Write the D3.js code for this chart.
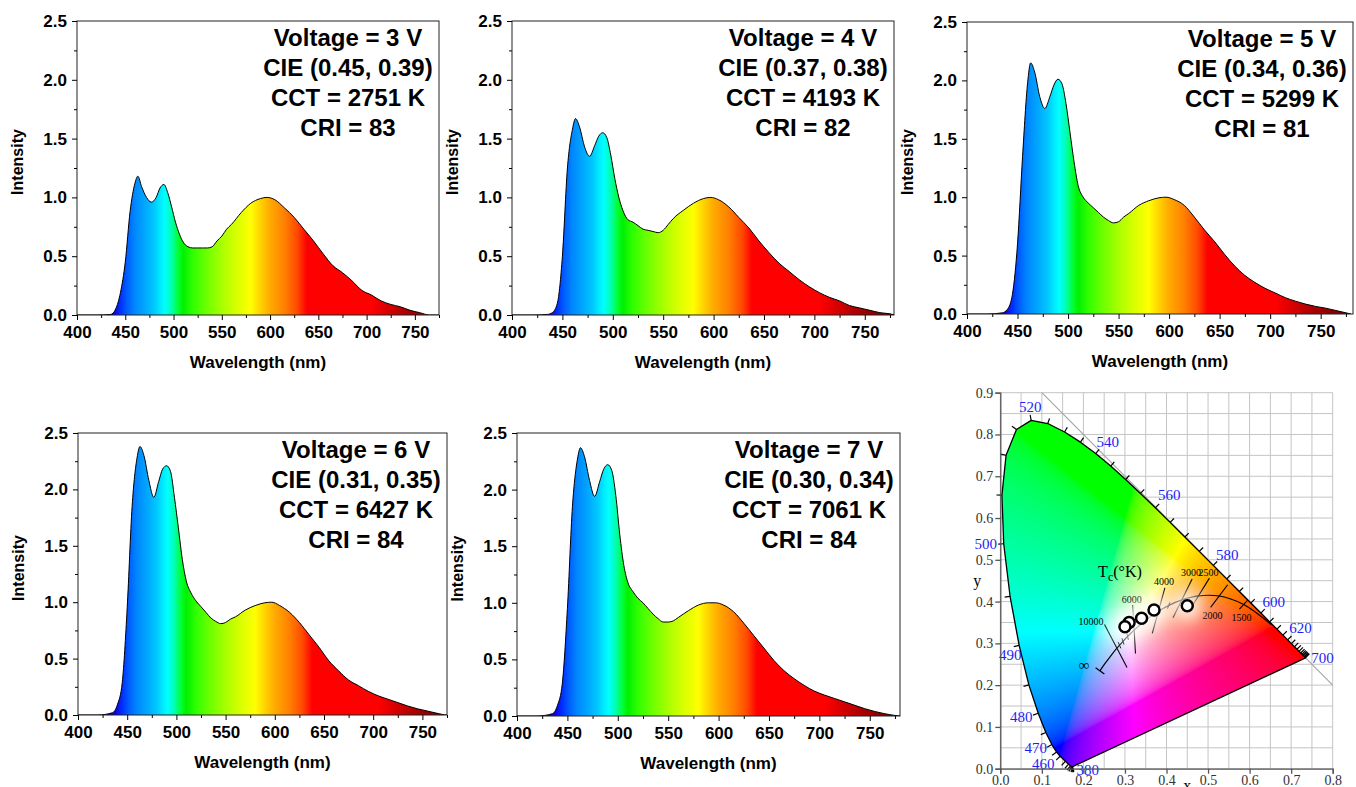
<!DOCTYPE html>
<html>

<head>
    <meta charset="UTF-8">
    <style>
        body { margin: 0; background: #fff; }
        svg { display: block; }
    </style>
</head>

<body>
    <svg></svg>
    <script src="https://d3js.org/d3.v7.min.js"></script>

    <script>

        let width = 1356, height = 787;

        let svg = d3.select("svg")
            .attr("width", width)
            .attr("height", height)

        // ---- spectra ----
        const wavelengths = [400, 420, 435, 440, 445, 450, 455, 460, 463, 467, 472, 477, 482, 486, 490, 494, 498, 502, 506, 510,
            515, 520, 525, 530, 535, 540, 545, 550, 555, 560, 570, 580, 590, 597, 605, 615, 625, 635, 645, 655,
            665, 675, 685, 695, 705, 715, 725, 735, 745, 755, 765, 775, 780];

        const spec3V = [0, 0, 0.005, 0.05, 0.19, 0.45, 0.88, 1.12, 1.18, 1.09, 1.0, 0.96, 1.0, 1.08, 1.11, 1.04, 0.92, 0.79, 0.69, 0.62,
            0.58, 0.57, 0.57, 0.57, 0.57, 0.58, 0.63, 0.67, 0.73, 0.77, 0.87, 0.95, 0.99, 1.0, 0.98, 0.91, 0.83, 0.73, 0.63, 0.52,
            0.42, 0.36, 0.29, 0.21, 0.17, 0.12, 0.09, 0.07, 0.04, 0.02, 0.0, 0, 0];
        const spec4V = [0, 0, 0.005, 0.02, 0.1, 0.5, 1.25, 1.58, 1.67, 1.6, 1.43, 1.35, 1.44, 1.52, 1.55, 1.51, 1.36, 1.16, 1.0, 0.89,
            0.81, 0.79, 0.76, 0.73, 0.72, 0.71, 0.7, 0.72, 0.77, 0.82, 0.89, 0.95, 0.99, 1.0, 0.98, 0.92, 0.83, 0.74, 0.63, 0.53,
            0.44, 0.37, 0.3, 0.24, 0.19, 0.15, 0.12, 0.08, 0.06, 0.04, 0.02, 0.01, 0];
        const spec5V = [0, 0, 0.01, 0.04, 0.17, 0.6, 1.35, 1.98, 2.15, 2.07, 1.86, 1.76, 1.86, 1.96, 2.01, 1.97, 1.8, 1.55, 1.3, 1.1,
            1.0, 0.95, 0.91, 0.87, 0.83, 0.8, 0.78, 0.79, 0.83, 0.86, 0.93, 0.97, 0.995, 1.0, 0.98, 0.93, 0.83, 0.72, 0.62, 0.51,
            0.41, 0.33, 0.27, 0.22, 0.18, 0.14, 0.11, 0.085, 0.065, 0.05, 0.03, 0.01, 0];
        const spec6V = [0, 0, 0.02, 0.09, 0.29, 0.95, 1.85, 2.28, 2.38, 2.3, 2.08, 1.93, 2.07, 2.18, 2.21, 2.16, 1.93, 1.66, 1.38, 1.19,
            1.08, 1.01, 0.96, 0.91, 0.86, 0.83, 0.81, 0.82, 0.85, 0.87, 0.93, 0.97, 0.995, 1.0, 0.97, 0.91, 0.82, 0.71, 0.6, 0.48,
            0.39, 0.31, 0.26, 0.21, 0.17, 0.14, 0.11, 0.08, 0.055, 0.035, 0.015, 0, 0];
        const spec7V = [0, 0, 0.02, 0.09, 0.29, 0.95, 1.85, 2.27, 2.37, 2.29, 2.08, 1.94, 2.07, 2.18, 2.22, 2.17, 1.95, 1.6, 1.33, 1.18,
            1.1, 1.04, 1.0, 0.95, 0.9, 0.86, 0.83, 0.83, 0.84, 0.87, 0.93, 0.98, 1.0, 1.0, 0.98, 0.92, 0.82, 0.71, 0.6, 0.49,
            0.4, 0.33, 0.27, 0.22, 0.185, 0.155, 0.125, 0.095, 0.065, 0.04, 0.02, 0.005, 0];

        const spectra = [spec3V, spec4V, spec5V, spec6V, spec7V];
        const voltages = [3, 4, 5, 6, 7];
        const cieX = [0.45, 0.37, 0.34, 0.31, 0.30];
        const cieY = [0.39, 0.38, 0.36, 0.35, 0.34];
        const cct = [2751, 4193, 5299, 6427, 7061];
        const cri = [83, 82, 81, 84, 84];

        const xTicks = [400, 450, 500, 550, 600, 650, 700, 750];
        const xMinor = [425, 475, 525, 575, 625, 675, 725, 775];
        const yTicks = [0, 0.5, 1.0, 1.5, 2.0, 2.5];
        const yMinor = [0.25, 0.75, 1.25, 1.75, 2.25];

        // ---- CIE 1931 spectral locus ----
        const locusNm = [380, 390, 400, 410, 420, 430, 440, 450, 460, 465, 470, 475, 480, 485, 490, 495, 500, 505, 510, 515,
            520, 525, 530, 535, 540, 545, 550, 555, 560, 565, 570, 575, 580, 585, 590, 595, 600, 605, 610, 615,
            620, 625, 630, 635, 640, 645, 650, 655, 660, 670, 680, 690, 700];
        const locusX = [0.1741, 0.1738, 0.1733, 0.1726, 0.1714, 0.1689, 0.1644, 0.1566, 0.1440, 0.1355, 0.1241, 0.1096, 0.0913, 0.0687, 0.0454, 0.0235, 0.0082, 0.0039, 0.0139, 0.0389,
            0.0743, 0.1142, 0.1547, 0.1929, 0.2296, 0.2658, 0.3016, 0.3373, 0.3731, 0.4087, 0.4441, 0.4788, 0.5125, 0.5448, 0.5752, 0.6029, 0.6270, 0.6482, 0.6658, 0.6801,
            0.6915, 0.7006, 0.7079, 0.7140, 0.7190, 0.7230, 0.7260, 0.7283, 0.7300, 0.7320, 0.7334, 0.7344, 0.7347];
        const locusY = [0.0050, 0.0049, 0.0048, 0.0048, 0.0051, 0.0069, 0.0109, 0.0177, 0.0297, 0.0399, 0.0578, 0.0868, 0.1327, 0.2007, 0.2950, 0.4127, 0.5384, 0.6548, 0.7502, 0.8120,
            0.8338, 0.8262, 0.8059, 0.7816, 0.7543, 0.7243, 0.6923, 0.6589, 0.6245, 0.5896, 0.5547, 0.5202, 0.4866, 0.4544, 0.4242, 0.3965, 0.3725, 0.3514, 0.3340, 0.3197,
            0.3083, 0.2993, 0.2920, 0.2859, 0.2809, 0.2770, 0.2740, 0.2717, 0.2700, 0.2680, 0.2666, 0.2656, 0.2653];
        const locusLabels = [380, 460, 470, 480, 490, 500, 520, 540, 560, 580, 600, 620, 700];

        // ---- Planckian locus ----
        const planckT = [1000, 1500, 2000, 2500, 3000, 3500, 4000, 4500, 5000, 5500, 6000, 6500, 7000, 8000, 9000, 10000, 12000, 15000, 20000, 40000, Infinity];
        const planckX = [0.6528, 0.5857, 0.5267, 0.4770, 0.4369, 0.4053, 0.3805, 0.3608, 0.3451, 0.3325, 0.3221, 0.3135, 0.3064, 0.2952, 0.2869, 0.2807, 0.2720, 0.2637, 0.2565, 0.2479, 0.2399];
        const planckY = [0.3444, 0.3931, 0.4133, 0.4137, 0.4041, 0.3907, 0.3768, 0.3636, 0.3516, 0.3411, 0.3318, 0.3237, 0.3166, 0.3048, 0.2956, 0.2884, 0.2779, 0.2673, 0.2577, 0.2459, 0.2342];
        const isoT = [10000, 6000, 4000, 3000, 2500, 2000, 1500];
        const minorT = [3500, 5000, 7000, 8000, 9000];

        const cieTicksX = [0, 0.1, 0.2, 0.3, 0.4, 0.5, 0.6, 0.7, 0.8];
        const cieTicksY = [0, 0.1, 0.2, 0.3, 0.4, 0.5, 0.6, 0.7, 0.8, 0.9];

        // ---- layout / style ----
        const sans = "'Liberation Sans', Arial, Helvetica, sans-serif";
        const serif = "'Liberation Serif', 'Times New Roman', Times, serif";

        const boxes = [
            { l: 77, t: 21, r: 439, b: 315, xmax: 775 },
            { l: 512, t: 21, r: 894, b: 315, xmax: 779 },
            { l: 967, t: 22, r: 1353, b: 314, xmax: 782 },
            { l: 78, t: 433, r: 447, b: 715, xmax: 775 },
            { l: 517, t: 433, r: 900, b: 716, xmax: 780 }
        ];

        const rainbow = [[425, "#1a0090"], [438, "#1000e0"], [445, "#0030ff"], [452, "#0060ff"], [460, "#0088ff"], [470, "#00a6ff"],
        [480, "#00c8ff"], [487, "#00eeff"], [491, "#00ffff"], [498, "#00ffb0"], [505, "#00ff30"], [510, "#00f000"],
        [520, "#30ff00"], [535, "#70ff00"], [550, "#a8ff00"], [565, "#d8ff00"], [580, "#ffff00"], [590, "#ffd200"],
        [600, "#ffaa00"], [615, "#ff8000"], [628, "#ff4a00"], [638, "#ff0000"], [705, "#ff0000"], [720, "#dd0000"],
        [740, "#b00000"], [770, "#800000"]];

        let defs = svg.append("defs");

        // ================= spectrum panels =================
        boxes.forEach((bx, k) => {
            let x = d3.scaleLinear().domain([400, bx.xmax]).range([bx.l, bx.r]);
            let y = d3.scaleLinear().domain([0, 2.5]).range([bx.b, bx.t]);

            let grad = defs.append("linearGradient")
                .attr("id", "spec" + k)
                .attr("gradientUnits", "userSpaceOnUse")
                .attr("x1", x(400)).attr("x2", x(780))
                .attr("y1", 0).attr("y2", 0);
            rainbow.forEach(s => grad.append("stop")
                .attr("offset", (s[0] - 400) / 380)
                .attr("stop-color", s[1]));

            defs.append("clipPath").attr("id", "pclip" + k)
                .append("rect")
                .attr("x", bx.l).attr("y", bx.t)
                .attr("width", bx.r - bx.l).attr("height", bx.b - bx.t);

            let pts = wavelengths.map((w, i) => [w, spectra[k][i]]);
            let g = svg.append("g");

            g.append("path")
                .datum(pts)
                .attr("clip-path", "url(#pclip" + k + ")")
                .attr("fill", "url(#spec" + k + ")")
                .attr("d", d3.area()
                    .x(d => x(d[0]))
                    .y0(y(0))
                    .y1(d => y(d[1]))
                    .curve(d3.curveMonotoneX));

            g.append("path")
                .datum(pts)
                .attr("clip-path", "url(#pclip" + k + ")")
                .attr("fill", "none")
                .attr("stroke", "#000")
                .attr("stroke-width", 1)
                .attr("d", d3.line()
                    .x(d => x(d[0]))
                    .y(d => y(d[1]))
                    .curve(d3.curveMonotoneX));

            g.append("rect")
                .attr("x", bx.l).attr("y", bx.t)
                .attr("width", bx.r - bx.l).attr("height", bx.b - bx.t)
                .attr("fill", "none")
                .attr("stroke", "#222")
                .attr("stroke-width", 1);

            // axes
            let xa = g.append("g").attr("transform", "translate(0," + bx.b + ")")
                .call(d3.axisBottom(x).tickValues(xTicks).tickSize(5).tickPadding(6));
            g.append("g").attr("transform", "translate(0," + bx.b + ")")
                .call(d3.axisBottom(x).tickValues(xMinor.filter(v => v <= bx.xmax)).tickSize(3).tickFormat(""))
                .select(".domain").remove();
            let ya = g.append("g").attr("transform", "translate(" + bx.l + ",0)")
                .call(d3.axisLeft(y).tickValues(yTicks).tickSize(5).tickPadding(5).tickFormat(d3.format(".1f")));
            g.append("g").attr("transform", "translate(" + bx.l + ",0)")
                .call(d3.axisLeft(y).tickValues(yMinor).tickSize(3).tickFormat(""))
                .select(".domain").remove();

            [xa, ya].forEach(a => {
                a.select(".domain").remove();
                a.selectAll("text")
                    .style("font-family", sans)
                    .style("font-weight", "bold")
                    .style("font-size", "17px")
                    .attr("fill", "#000");
            });
            g.selectAll(".tick line").attr("stroke", "#000");

            g.append("text")
                .attr("x", (bx.l + bx.r) / 2)
                .attr("y", bx.b + 53)
                .attr("text-anchor", "middle")
                .style("font-family", sans)
                .style("font-weight", "bold")
                .style("font-size", "17px")
                .text("Wavelength (nm)");

            g.append("text")
                .attr("transform", "translate(" + (bx.l - 54) + "," + ((bx.t + bx.b) / 2 - 6) + ") rotate(-90)")
                .attr("text-anchor", "middle")
                .style("font-family", sans)
                .style("font-weight", "bold")
                .style("font-size", "16px")
                .text("Intensity");

            let lines = [
                "Voltage = " + voltages[k] + " V",
                "CIE (" + d3.format(".2f")(cieX[k]) + ", " + d3.format(".2f")(cieY[k]) + ")",
                "CCT = " + cct[k] + " K",
                "CRI = " + cri[k]
            ];
            g.selectAll(".info")
                .data(lines)
                .enter()
                .append("text")
                .attr("x", bx.r - 91)
                .attr("y", (d, i) => bx.t + 25 + i * 30)
                .attr("text-anchor", "middle")
                .style("font-family", sans)
                .style("font-weight", "bold")
                .style("font-size", "24px")
                .text(d => d);
        });

        // ================= CIE chromaticity diagram =================
        let cx = d3.scaleLinear().domain([0, 0.8]).range([1000.3, 1332.7]);
        let cy = d3.scaleLinear().domain([0, 0.9]).range([768.7, 392.7]);
        let cg = svg.append("g");

        // grid every 0.05
        let gridX = d3.range(0, 17).map(i => i * 0.05);
        let gridY = d3.range(0, 19).map(i => i * 0.05);
        cg.append("g").selectAll("line").data(gridX).enter().append("line")
            .attr("x1", d => cx(d)).attr("x2", d => cx(d))
            .attr("y1", cy(0)).attr("y2", cy(0.9))
            .attr("stroke", "#c4c4c4").attr("stroke-width", 1);
        cg.append("g").selectAll("line").data(gridY).enter().append("line")
            .attr("x1", cx(0)).attr("x2", cx(0.8))
            .attr("y1", d => cy(d)).attr("y2", d => cy(d))
            .attr("stroke", "#c4c4c4").attr("stroke-width", 1);

        // x + y = 1 line
        cg.append("line")
            .attr("x1", cx(0.1)).attr("y1", cy(0.9))
            .attr("x2", cx(0.8)).attr("y2", cy(0.2))
            .attr("stroke", "#a8a8a8").attr("stroke-width", 1.2);

        // horseshoe colour fill (xyY -> sRGB, out-of-gamut clipped, max-normalised)
        function xyToRgb(x, y) {
            let X = x / y, Y = 1, Z = (1 - x - y) / y;
            let r = 3.2406 * X - 1.5372 * Y - 0.4986 * Z;
            let g = -0.9689 * X + 1.8758 * Y + 0.0415 * Z;
            let b = 0.0557 * X - 0.2040 * Y + 1.0570 * Z;
            r = Math.max(r, 0); g = Math.max(g, 0); b = Math.max(b, 0);
            let M = Math.max(r, g, b) || 1;
            r /= M; g /= M; b /= M;
            const gam = v => v <= 0.0031308 ? 12.92 * v : 1.055 * Math.pow(v, 1 / 2.4) - 0.055;
            return [gam(r) * 255, gam(g) * 255, gam(b) * 255];
        }

        let px0 = Math.floor(cx(0)), px1 = Math.ceil(cx(0.8)), py0 = Math.floor(cy(0.9)), py1 = Math.ceil(cy(0));
        let cw = px1 - px0, ch = py1 - py0;
        let canvas = document.createElement("canvas");
        canvas.width = cw; canvas.height = ch;
        let ctx = canvas.getContext("2d");
        let img = ctx.createImageData(cw, ch);
        for (let j = 0; j < ch; j++) {
            for (let i = 0; i < cw; i++) {
                let xv = cx.invert(px0 + i + 0.5), yv = cy.invert(py0 + j + 0.5);
                if (yv < 0.002 || xv < 0) continue;
                let c = xyToRgb(xv, yv);
                let o = (j * cw + i) * 4;
                img.data[o] = c[0]; img.data[o + 1] = c[1]; img.data[o + 2] = c[2]; img.data[o + 3] = 255;
            }
        }
        ctx.putImageData(img, 0, 0);

        let locusPts = locusNm.map((nm, i) => [cx(locusX[i]), cy(locusY[i])]);
        let locusPath = d3.line()(locusPts) + "Z";

        defs.append("clipPath").attr("id", "locusClip")
            .append("path").attr("d", locusPath);

        cg.append("image")
            .attr("x", px0).attr("y", py0)
            .attr("width", cw).attr("height", ch)
            .attr("preserveAspectRatio", "none")
            .attr("href", canvas.toDataURL())
            .attr("clip-path", "url(#locusClip)");

        cg.append("path")
            .attr("d", locusPath)
            .attr("fill", "none")
            .attr("stroke", "#000")
            .attr("stroke-width", 1.3)
            .attr("stroke-linejoin", "round");

        // wavelength ticks on the locus (outward)
        let cen = [cx(0.33), cy(0.33)];
        function outward(i) {
            let a = locusPts[Math.max(i - 1, 0)], c = locusPts[Math.min(i + 1, locusPts.length - 1)];
            let tx = c[0] - a[0], ty = c[1] - a[1];
            let len = Math.hypot(tx, ty) || 1;
            let nx = -ty / len, ny = tx / len;
            let p = locusPts[i];
            if ((p[0] - cen[0]) * nx + (p[1] - cen[1]) * ny < 0) { nx = -nx; ny = -ny; }
            return [nx, ny];
        }
        cg.append("g").selectAll("line")
            .data(locusNm.map((nm, i) => i).filter(i => locusNm[i] > 380 && locusNm[i] < 700))
            .enter().append("line")
            .attr("x1", i => locusPts[i][0])
            .attr("y1", i => locusPts[i][1])
            .attr("x2", i => locusPts[i][0] + outward(i)[0] * 5.5)
            .attr("y2", i => locusPts[i][1] + outward(i)[1] * 5.5)
            .attr("stroke", "#000")
            .attr("stroke-width", 1.2);

        // label offsets from the locus point (pixels)
        const labelOffset = {
            380: [15, 3], 460: [-17, 7], 470: [-16, 3], 480: [-17, 3], 490: [-9, 9], 500: [-18, 0],
            520: [-1, -14], 540: [12, -12], 560: [14, -13], 580: [14, -11], 600: [13, -11], 620: [13, -12], 700: [17, 0]
        };
        cg.append("g").selectAll("text")
            .data(locusLabels)
            .enter().append("text")
            .attr("x", nm => locusPts[locusNm.indexOf(nm)][0] + labelOffset[nm][0])
            .attr("y", nm => locusPts[locusNm.indexOf(nm)][1] + labelOffset[nm][1])
            .attr("dy", "0.35em")
            .attr("text-anchor", "middle")
            .attr("fill", "#1e1ef5")
            .style("font-family", serif)
            .style("font-size", "15px")
            .text(d => d);

        // Planckian locus
        let planckPts = planckT.map((t, i) => [planckX[i], planckY[i]]);
        cg.append("path")
            .datum(planckPts)
            .attr("fill", "none")
            .attr("stroke", "#000")
            .attr("stroke-width", 1.2)
            .attr("d", d3.line().x(d => cx(d[0])).y(d => cy(d[1])).curve(d3.curveCatmullRom));

        // isotherms: perpendicular to the locus in CIE 1960 uv
        const toUV = (x, y) => { let d = -2 * x + 12 * y + 3; return [4 * x / d, 6 * y / d]; };
        const toXY = (u, v) => { let d = 2 * u - 8 * v + 4; return [3 * u / d, 2 * v / d]; };
        function isoDir(i) {
            let a = toUV(planckX[Math.max(i - 1, 0)], planckY[Math.max(i - 1, 0)]);
            let c = toUV(planckX[Math.min(i + 1, planckT.length - 1)], planckY[Math.min(i + 1, planckT.length - 1)]);
            let tu = c[0] - a[0], tv = c[1] - a[1], l = Math.hypot(tu, tv);
            let nu = -tv / l, nv = tu / l;
            let p = toUV(planckX[i], planckY[i]);
            let q = toXY(p[0] + nu * 0.001, p[1] + nv * 0.001);
            let dx = q[0] - planckX[i], dy = q[1] - planckY[i], dl = Math.hypot(dx, dy);
            dx /= dl; dy /= dl;
            if (dy < 0) { dx = -dx; dy = -dy; }   // "up" direction
            return [dx, dy];
        }
        const isoLen = { 10000: [0.064, 0.052], 6000: [0.06, 0.056], 4000: [0.058, 0.055], 3000: [0.056, 0.048], 2500: [0.05, 0.028], 2000: [0.034, 0.034], 1500: [0.015, 0.015] };
        let isoData = isoT.map(t => {
            let i = planckT.indexOf(t), dir = isoDir(i), L = isoLen[t];
            return {
                t: t,
                up: [planckX[i] + dir[0] * L[0], planckY[i] + dir[1] * L[0]],
                dn: [planckX[i] - dir[0] * L[1], planckY[i] - dir[1] * L[1]]
            };
        });
        cg.append("g").selectAll("line").data(isoData).enter().append("line")
            .attr("x1", d => cx(d.up[0])).attr("y1", d => cy(d.up[1]))
            .attr("x2", d => cx(d.dn[0])).attr("y2", d => cy(d.dn[1]))
            .attr("stroke", "#000").attr("stroke-width", 1.1);

        // short ticks at intermediate temperatures
        cg.append("g").selectAll("line").data(minorT).enter().append("line")
            .each(function (t) {
                let i = planckT.indexOf(t), dir = isoDir(i), L = 0.008;
                d3.select(this)
                    .attr("x1", cx(planckX[i] + dir[0] * L)).attr("y1", cy(planckY[i] + dir[1] * L))
                    .attr("x2", cx(planckX[i] - dir[0] * L)).attr("y2", cy(planckY[i] - dir[1] * L));
            })
            .attr("stroke", "#000").attr("stroke-width", 1);

        // bar at infinity
        let iInf = planckT.length - 1, dInf = isoDir(iInf);
        cg.append("line")
            .attr("x1", cx(planckX[iInf] + dInf[0] * 0.013)).attr("y1", cy(planckY[iInf] + dInf[1] * 0.013))
            .attr("x2", cx(planckX[iInf] - dInf[0] * 0.013)).attr("y2", cy(planckY[iInf] - dInf[1] * 0.013))
            .attr("stroke", "#000").attr("stroke-width", 1.2);
        cg.append("text")
            .attr("x", cx(planckX[iInf]) - 16).attr("y", cy(planckY[iInf]) - 6)
            .attr("dy", "0.35em").attr("text-anchor", "middle")
            .style("font-family", serif).style("font-size", "15px")
            .text("\u221E");

        // temperature labels
        cg.append("g").selectAll("text").data(isoData).enter().append("text")
            .attr("x", d => d.t === 10000 ? cx(d.up[0]) - 1 : (d.t < 2500 ? cx(d.dn[0]) + 2 : cx(d.up[0]) - 1))
            .attr("y", d => d.t === 10000 ? cy(d.up[1]) - 3 : (d.t < 2500 ? cy(d.dn[1]) + 8 : cy(d.up[1]) - 6))
            .attr("dy", "0.35em")
            .attr("text-anchor", d => d.t === 10000 ? "end" : "middle")
            .style("font-family", serif).style("font-size", "10px")
            .text(d => d.t);

        let tc = cg.append("text")
            .attr("x", cx(0.288)).attr("y", cy(0.458))
            .attr("text-anchor", "middle")
            .style("font-family", serif).style("font-size", "16px");
        tc.append("tspan").text("T");
        tc.append("tspan").attr("dy", 4).style("font-size", "12px").text("c");
        tc.append("tspan").attr("dy", -4).text("(\u00B0K)");

        // white glow around the measured points, then the points
        defs.append("filter").attr("id", "glow")
            .attr("x", "-200%").attr("y", "-200%").attr("width", "500%").attr("height", "500%")
            .append("feGaussianBlur").attr("stdDeviation", 8);
        cg.append("g")
            .attr("filter", "url(#glow)")
            .attr("opacity", 0.9)
            .selectAll("circle").data(cieX).enter().append("circle")
            .attr("cx", (d, i) => cx(cieX[i]))
            .attr("cy", (d, i) => cy(cieY[i]))
            .attr("r", 14)
            .attr("fill", "#fff");

        cg.append("g").selectAll("circle").data(cieX).enter().append("circle")
            .attr("cx", (d, i) => cx(cieX[i]))
            .attr("cy", (d, i) => cy(cieY[i]))
            .attr("r", 5.5)
            .attr("fill", "#fff")
            .attr("stroke", "#000")
            .attr("stroke-width", 2.5);

        // axes of the CIE diagram
        let cxa = cg.append("g").attr("transform", "translate(0," + cy(0) + ")")
            .call(d3.axisBottom(cx).tickValues(cieTicksX).tickSize(5).tickPadding(1).tickFormat(d3.format(".1f")));
        let cya = cg.append("g").attr("transform", "translate(" + cx(0) + ",0)")
            .call(d3.axisLeft(cy).tickValues(cieTicksY).tickSize(5).tickPadding(2).tickFormat(d3.format(".1f")));
        [cxa, cya].forEach(a => {
            a.select(".domain").attr("stroke", "#555").attr("stroke-width", 1.3);
            a.selectAll(".tick line").attr("stroke", "#555").attr("stroke-width", 1.3);
            a.selectAll("text")
                .style("font-family", serif)
                .style("font-size", "14px")
                .attr("fill", "#333");
        });

        cg.append("text")
            .attr("x", cx(0) - 23).attr("y", cy(0.45) + 5)
            .attr("text-anchor", "middle")
            .style("font-family", serif).style("font-size", "16px")
            .text("y");
        cg.append("text")
            .attr("x", cx(0.45)).attr("y", cy(0) + 22)
            .attr("text-anchor", "middle")
            .style("font-family", serif).style("font-size", "16px")
            .text("x");

    </script>
</body>

</html>
